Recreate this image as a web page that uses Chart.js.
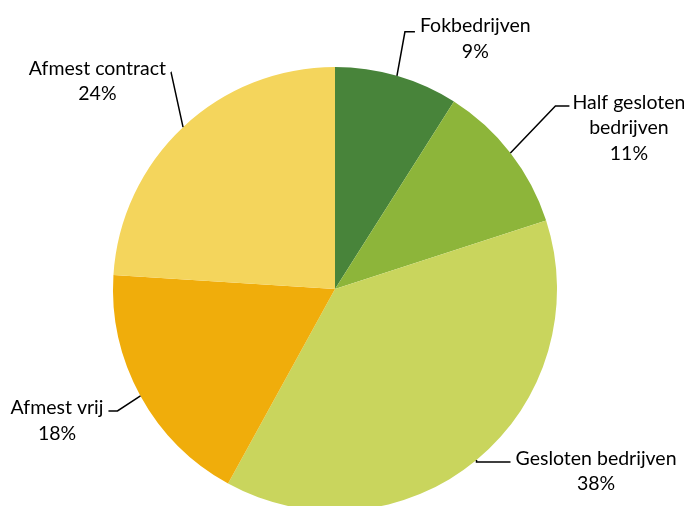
<!DOCTYPE html>
<html>
<head>
<meta charset="utf-8">
<script src="https://cdn.jsdelivr.net/npm/chart.js@4/dist/chart.umd.min.js"></script>
<style>
  html, body { margin: 0; padding: 0; background: #fff; overflow: hidden; }
  #wrap { position: relative; width: 684px; height: 530px; }
</style>
</head>
<body>
<div id="wrap"><canvas id="pie"></canvas></div>
<script>
const LABELS = [['Fokbedrijven'], ['Half gesloten', 'bedrijven'], ['Gesloten bedrijven'], ['Afmest vrij'], ['Afmest contract']];
const VALUES = [9, 11, 38, 18, 24];
const COLORS = ['#48843a', '#8db53a', '#c9d55d', '#f0ad0b', '#f4d55c'];

// leader line shape per slice: elbow offset from the arc edge, horizontal tail, text gap and shift
const LABEL_LAYOUT = [
    { elbow: [8, -44], tail: 10, gap: 5, dy: 7 },
    { elbow: [45, -47], tail: 14, gap: 3, dy: 22 },
    { elbow: [0, 2], tail: 34, gap: 5, dy: 9 },
    { elbow: [-23, 15], tail: -9, gap: 5, dy: 10 },
    { elbow: [-12, -55], tail: -0.01, gap: 5, dy: 9 }
];

const FONT = '19.5px Lato, "Open Sans", sans-serif';

const leaderLabels = {
    id: 'leaderLabels',
    afterDatasetsDraw(chart) {
        const ctx = chart.ctx;
        const meta = chart.getDatasetMeta(0);
        const total = VALUES.reduce((a, b) => a + b, 0);
        ctx.save();
        ctx.font = FONT;
        ctx.fillStyle = '#000';
        ctx.strokeStyle = '#000';
        ctx.lineWidth = 1.5;
        meta.data.forEach((arc, i) => {
            const p = arc.getProps(['x', 'y', 'startAngle', 'endAngle', 'outerRadius'], true);
            const mid = (p.startAngle + p.endAngle) / 2;
            const ax = p.x + Math.cos(mid) * p.outerRadius;
            const ay = p.y + Math.sin(mid) * p.outerRadius;
            const lay = LABEL_LAYOUT[i];
            const ex = ax + lay.elbow[0];
            const ey = ay + lay.elbow[1];
            const hx = ex + lay.tail;
            ctx.beginPath();
            ctx.moveTo(ax, ay);
            ctx.lineTo(ex, ey);
            ctx.lineTo(hx, ey);
            ctx.stroke();

            const lines = LABELS[i].concat([Math.round(VALUES[i] / total * 100) + '%']);
            const w = Math.max(...lines.map(l => ctx.measureText(l).width));
            const cx = lay.tail >= 0 ? hx + lay.gap + w / 2 : hx - lay.gap - w / 2;
            const lh = 25.5;
            const top = ey + lay.dy - (lines.length - 1) * lh / 2;
            ctx.textAlign = 'center';
            ctx.textBaseline = 'middle';
            lines.forEach((l, k) => ctx.fillText(l, cx, top + k * lh));
        });
        ctx.restore();
    }
};

new Chart(document.getElementById('pie'), {
    type: 'pie',
    data: {
        labels: LABELS.map(l => l.join(' ')),
        datasets: [{
            data: VALUES,
            backgroundColor: COLORS,
            borderWidth: 0
        }]
    },
    options: {
        responsive: true,
        maintainAspectRatio: false,
        animation: false,
        layout: { padding: { left: 113, right: 127, top: 67, bottom: 19 } },
        plugins: {
            legend: { display: false },
            tooltip: { enabled: false }
        }
    },
    plugins: [leaderLabels]
});
</script>
</body>
</html>
